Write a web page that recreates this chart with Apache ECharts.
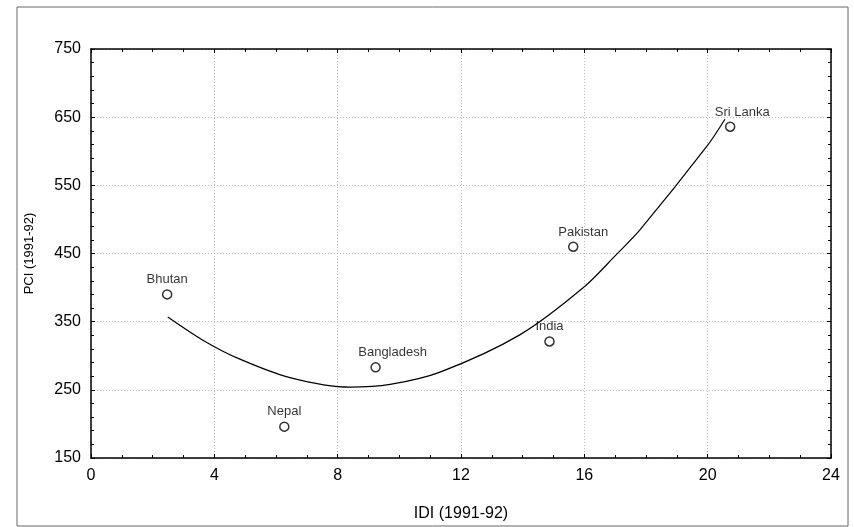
<!DOCTYPE html>
<html>
<head>
<meta charset="utf-8">
<script src="https://cdn.jsdelivr.net/npm/echarts@6/dist/echarts.min.js"></script>
<style>html,body{margin:0;padding:0;background:#fff}#c{width:854px;height:527px}</style>
</head>
<body>
<div id="c"></div>
<script>
// Data
const countries = ["Bhutan", "Nepal", "Bangladesh", "India", "Pakistan", "Sri Lanka"];
const idi = [2.47, 6.27, 9.23, 14.87, 15.64, 20.73];
const pci = [390, 196, 283, 321, 460, 636];
const labelShift = [0, 0, 17, 0, 10, 12];
// fitted curve
const curveX = [2.49, 3.7, 4.83, 6.45, 8.4, 9.7, 11.32, 13.92, 15.97, 17.05, 17.81, 19.97, 20.56];
const curveY = [357, 321, 295, 268, 254, 258, 276, 331, 400, 449, 485, 607, 647];
const xTicks = [0, 4, 8, 12, 16, 20, 24];
const yTicks = [150, 250, 350, 450, 550, 650, 750];

const chart = echarts.init(document.getElementById('c'), null, {renderer: 'canvas'});
const font = 'Arial, "Liberation Sans", sans-serif';

const baseAxis = (extra) => Object.assign({
  type: 'value',
  axisLine: {show: true, onZero: false, lineStyle: {color: '#000', width: 1.5}},
  axisTick: {show: true, inside: true, length: 4, lineStyle: {color: '#000'}},
  minorTick: {show: true, splitNumber: 4, length: 3, lineStyle: {color: '#000'}},
}, extra);

chart.setOption({
  animation: false,
  graphic: [{
    type: 'rect', shape: {x: 17, y: 7, width: 831, height: 519},
    style: {fill: 'none', stroke: '#666', lineWidth: 1}, z: -1
  }],
  grid: {left: 91, right: 23, top: 49, bottom: 58, show: false},
  xAxis: [
    baseAxis({
      min: xTicks[0], max: xTicks[xTicks.length - 1], interval: 4,
      name: 'IDI (1991-92)', nameLocation: 'middle', nameGap: 48,
      nameTextStyle: {color: '#000', fontSize: 16, fontFamily: font},
      axisLabel: {color: '#000', fontSize: 16, fontFamily: font, margin: 10},
      splitLine: {show: true, lineStyle: {color: '#bbb', type: [1, 2], width: 1}},
      minorTick: {show: true, splitNumber: 4, length: 3, lineStyle: {color: '#000'}}
    }),
    baseAxis({
      position: 'top', min: 0, max: 24, interval: 4,
      axisLabel: {show: false}, splitLine: {show: false},
      minorTick: {show: true, splitNumber: 4, length: 3, lineStyle: {color: '#000'}}
    })
  ],
  yAxis: [
    baseAxis({
      min: yTicks[0], max: yTicks[yTicks.length - 1], interval: 100,
      name: 'PCI (1991-92)', nameLocation: 'middle', nameGap: 55, nameRotate: 90,
      nameTextStyle: {color: '#000', fontSize: 13, fontFamily: font},
      axisLabel: {color: '#000', fontSize: 16, fontFamily: font, margin: 10},
      splitLine: {show: true, lineStyle: {color: '#bbb', type: [1, 2], width: 1}},
      minorTick: {show: true, splitNumber: 5, length: 3, lineStyle: {color: '#000'}}
    }),
    baseAxis({
      position: 'right', min: 150, max: 750, interval: 100,
      axisLabel: {show: false}, splitLine: {show: false},
      minorTick: {show: true, splitNumber: 5, length: 3, lineStyle: {color: '#000'}}
    })
  ],
  series: [
    {
      type: 'line', xAxisIndex: 0, yAxisIndex: 0,
      data: curveX.map((x, i) => [x, curveY[i]]),
      smooth: 0.3, showSymbol: false, symbol: 'none',
      lineStyle: {color: '#000', width: 1.2}, z: 3
    },
    {
      type: 'scatter', xAxisIndex: 0, yAxisIndex: 0,
      data: countries.map((n, i) => ({
        name: n, value: [idi[i], pci[i]],
        label: {offset: [labelShift[i], 0]}
      })),
      symbol: 'circle', symbolSize: 9,
      itemStyle: {color: '#fff', borderColor: '#000', borderWidth: 1.5},
      label: {
        show: true, position: 'top', distance: 3,
        formatter: p => p.name, color: '#000', fontSize: 13, fontFamily: font
      },
      z: 4
    }
  ]
});
</script>
</body>
</html>
